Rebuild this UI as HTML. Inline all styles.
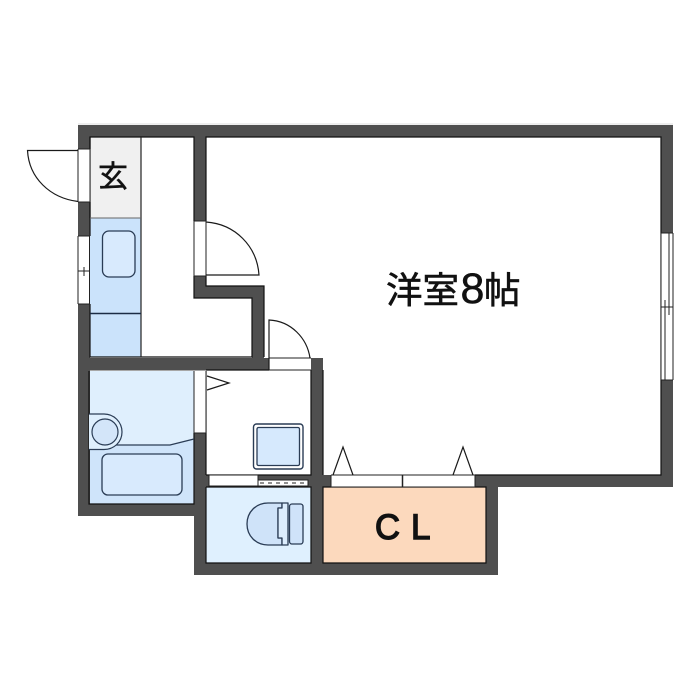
<!DOCTYPE html>
<html><head><meta charset="utf-8">
<style>
html,body{margin:0;padding:0;background:#fff;width:700px;height:700px;overflow:hidden}
svg{display:block}
text{font-family:"Liberation Sans","Noto Sans CJK JP",sans-serif;fill:#111}
</style></head>
<body>
<svg width="700" height="700" viewBox="0 0 700 700" xmlns="http://www.w3.org/2000/svg">
<rect width="700" height="700" fill="#fff"/>
<path d="M78 124H673" stroke="#ddd" stroke-width="1"/>
<!-- room fills -->
<rect x="90" y="137" width="51" height="81" fill="#f0f0f0"/>
<rect x="90" y="218" width="51" height="139" fill="#cbe3fb"/>
<rect x="89" y="371" width="105" height="133" fill="#dfeffd"/>
<path d="M89 445H170L194 439V504H89Z" fill="#cfe4fa"/>
<rect x="206" y="487" width="105" height="76" fill="#dff0fe"/>
<rect x="323" y="487" width="163" height="76" fill="#fcd9bd"/>
<!-- walls -->
<g fill="#4f4f4f">
<rect x="78" y="125" width="595" height="12"/>
<rect x="78" y="125" width="12" height="391"/>
<rect x="661" y="125" width="12" height="362"/>
<rect x="194" y="125" width="12" height="96"/>
<rect x="194" y="276" width="12" height="22"/>
<rect x="194" y="286" width="70" height="12"/>
<rect x="252" y="286" width="12" height="84"/>
<rect x="78" y="358" width="191" height="12.500"/>
<rect x="78" y="504" width="128" height="12"/>
<rect x="194" y="433" width="12" height="142"/>
<rect x="194" y="563" width="304" height="12"/>
<rect x="311" y="358" width="12" height="217"/>
<rect x="206" y="475" width="117" height="12"/>
<rect x="323" y="475" width="8" height="12"/>
<rect x="475" y="475" width="198" height="12"/>
<rect x="486" y="487" width="12" height="88"/>
</g>
<!-- wall edges -->
<g fill="none" stroke="#111" stroke-width="1.200">
<path d="M90 218V137H194V221M206 221V137H661V475H475"/>
<path d="M90 149V137M90 202V236M90 304V357H252V298H194V276M206 276V286H264V357"/>
<path d="M89 371V504H194V433M206 433V475M206 371V433M269 370H206M311 370V475H206M206 487H311V563H206V487"/>
<path d="M323 475V370M323 487H486V563H323Z"/>
</g>
<!-- openings -->
<g fill="#fff">
<rect x="78" y="149" width="12" height="53"/>
<rect x="78" y="236" width="12" height="68"/>
<rect x="661" y="233" width="12" height="147"/>
<rect x="194" y="221" width="12" height="55"/>
<rect x="194" y="371" width="12" height="62"/>
<rect x="269" y="358" width="42" height="12"/>
<rect x="209" y="475" width="49" height="11"/>
<rect x="258" y="480" width="50" height="6"/>
<rect x="331" y="475" width="144" height="12"/>
</g>
<g fill="none" stroke="#222" stroke-width="1">
<path d="M78 149V202M90 149V202M78 149H90M78 202H90"/>
<path d="M78 236V304M89.500 236V304M78 236H90M78 304H90M78 271H90M84 267V276M81 271H88"/>
<path d="M661 233V380M673 233V380M661 233H673M661 380H673M669 233V315M665 300V380M661 307H673"/>
<path d="M194 221V276M206 221V276M194 221H206M194 276H206"/>
<path d="M194 371V433M206 371V433M194 433H206"/>
<path d="M269 358H311M269 370H311"/>
<path d="M209 475V486H258V475M209 475H258"/>
<path d="M258 480H308V486H258Z"/>
<path d="M260 483H306" stroke-dasharray="4 4"/>
<path d="M331 475H475M331 487H475M331 475V487M475 475V487"/>
<path d="M402.500 475V487" stroke-width="1.500"/>
</g>
<!-- door swings -->
<g fill="none" stroke="#1a1a1a" stroke-width="1.200">
<path d="M78 150.500H27.500C29 178 50 198 78 201.500"/>
<path d="M206 222C235 224 257 246 259 275H206"/>
<path d="M269 370V320C291 321 307 338 310 358"/>
<path d="M207 376L229 383L207 390"/>
<path d="M333 475L343 447L353 475"/>
<path d="M453 475L463 447L473 475"/>
</g>
<!-- kitchen -->
<path d="M141 137V357" stroke="#222" stroke-width="1.200"/>
<path d="M90 218H141" stroke="#666" stroke-width="1"/>
<path d="M90 313.500H141" stroke="#1c2c44" stroke-width="1.400"/>
<rect x="102.500" y="231" width="32.500" height="46" rx="6.500" fill="#d8eafd" stroke="#2a3c55" stroke-width="1.300"/>
<!-- bath -->
<path d="M89 445H170L194 439" fill="none" stroke="#2a3c55" stroke-width="1.300"/>
<path d="M89 414H104C114 414 122 422 122 432C122 442 114 449.500 104 449.500H89" fill="#dfeffd" stroke="#2a3c55" stroke-width="1.200"/>
<circle cx="105" cy="432" r="13" fill="#d3e5f9" stroke="#2a3c55" stroke-width="1.200"/>
<rect x="102" y="454" width="80" height="41" rx="6" fill="#d8eafd" stroke="#2a3c55" stroke-width="1.300"/>
<!-- washer -->
<rect x="253.500" y="424" width="49.500" height="45" rx="3" fill="#fff" stroke="#2a3c55" stroke-width="1.400"/>
<rect x="257" y="427.500" width="42.500" height="38" rx="1.500" fill="#d6e9fd" stroke="#2a3c55" stroke-width="1.300"/>
<!-- toilet -->
<g stroke="#2a3c55" stroke-width="1.300" stroke-linejoin="round">
<path d="M282 503H268C256 503 247 512 247 524C247 536 256 545 268 545H282V538H278V508H282Z" fill="#cfe3f9"/>
<path d="M282 503H288V545H282V538H278V508H282Z" fill="#dcedfd"/>
<rect x="289.500" y="504" width="13.500" height="40" rx="2.500" fill="#cfe3f9"/>
</g>
<!-- labels -->
<text x="113" y="187" font-size="30" text-anchor="middle" stroke="#111" stroke-width=".5">玄</text>
<text x="386" y="303" font-size="36.500" stroke="#111" stroke-width=".6">洋室</text>
<text x="460.500" y="303" font-size="43" stroke="#111" stroke-width=".5">8</text>
<text x="484" y="303" font-size="36.500" stroke="#111" stroke-width=".6">帖</text>
<text x="375" y="539" font-size="35" stroke="#111" stroke-width="1.400" textLength="25" lengthAdjust="spacingAndGlyphs">C</text>
<text x="411" y="539" font-size="35" stroke="#111" stroke-width="1.400">L</text>
</svg>
</body></html>
